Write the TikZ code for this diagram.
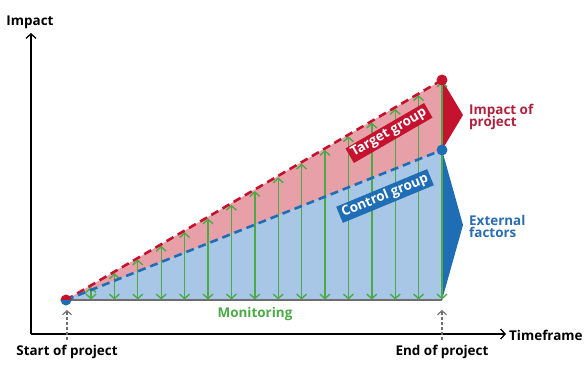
\documentclass[tikz,border=0pt]{standalone}
\usepackage{fontspec}
\setmainfont{Open Sans}
\usetikzlibrary{arrows.meta}
\definecolor{dred}{HTML}{C4122F}
\definecolor{tred}{HTML}{B0213A}
\definecolor{dblue}{HTML}{1F6DB5}
\definecolor{tblue}{HTML}{2A6DB0}
\definecolor{pinkfill}{HTML}{E8A0A8}
\definecolor{bluefill}{HTML}{A8C7E6}
\definecolor{mgreen}{HTML}{4CAA46}
\definecolor{bgrey}{HTML}{6E6E6E}
\tikzset{
  axis/.style={line width=1.3pt, black, -{Straight Barb[length=4.5pt,width=10pt,line width=1.3pt]}},
  monarrow/.style={line width=1.4pt, mgreen, {Straight Barb[length=4.5pt,width=10pt]}-{Straight Barb[length=4.5pt,width=10pt]}},
  markarrow/.style={line width=1.1pt, bgrey, dash pattern=on 3pt off 2pt, -{Straight Barb[length=4pt,width=9pt]}},
  lbl/.style={font=\bfseries\fontsize{13.5}{15}\selectfont, inner sep=0pt, align=left},
  grouplbl/.style={font=\bfseries\fontsize{13.5}{14}\selectfont, text=white, inner xsep=3pt, inner ysep=2pt},
  dot/.style={circle, inner sep=0pt, minimum size=11pt}
}
\begin{document}
\begin{tikzpicture}[x=1bp,y=-1bp]
\useasboundingbox (0,0) rectangle (588,368);
% coordinates
\coordinate (S) at (66,300);
\coordinate (T) at (442,80);
\coordinate (C) at (442,150);
\coordinate (E) at (442,300);
% fills
\fill[pinkfill] (S) -- (T) -- (E) -- cycle;
\fill[bluefill] (S) -- (C) -- (E) -- cycle;
% side arrows
\fill[dred] (T) -- (463,115) -- (C) -- cycle;
\fill[dblue] (C) -- (463,225) -- (E) -- cycle;
% green monitoring arrows
\foreach \i in {0,...,15}{
  \pgfmathsetmacro{\xx}{91+\i*23.4}
  \pgfmathsetmacro{\yy}{300-(\xx-66)*0.5851}
  \draw[monarrow] (\xx,299.5) -- (\xx,\yy+1.5);
}
% baseline
\draw[line width=1.8pt, bgrey] (S) -- (E);
% dashed lines
\draw[line width=2.6pt, dred, dash pattern=on 8pt off 5pt] (S) -- (T);
\draw[line width=2.6pt, dblue, dash pattern=on 8pt off 5pt] (S) -- (C);
% dots
\node[dot, fill=dred] (dT) at (T) {};
\node[dot, fill=dblue] (dC) at (C) {};
\begin{scope}
  \clip (S) ++(-6,-6) rectangle ++(12,6);
  \fill[dred] (S) circle (5.5);
\end{scope}
\begin{scope}
  \clip (S) ++(-6,0) rectangle ++(12,6);
  \fill[dblue] (S) circle (5.5);
\end{scope}
% axes
\coordinate (O) at (31,334);
\coordinate (Ytip) at (31,33);
\coordinate (Xtip) at (506,334);
\draw[axis] (O) -- (Ytip);
\draw[axis] (O) -- (Xtip);
\node[lbl, anchor=south] (impact) at (30,29) {Impact};
\node[lbl, anchor=west] (tf) at (509,335) {Timeframe};
% start/end markers
\coordinate (m1) at (67,340);
\coordinate (m2) at (442,340);
\draw[markarrow] (m1) -- (67,310);
\draw[markarrow] (m2) -- (442,310);
\node[lbl, anchor=center] (start) at (67,352) {Start of project};
\node[lbl, anchor=center] (end) at (442,352) {End of project};
% monitoring
\node[lbl, text=mgreen, anchor=center] (mon) at (255,314) {Monitoring};
% right labels
\node[lbl, text=tred, anchor=west] (imp) at (469,117) {Impact of\\[-3pt]project};
\node[lbl, text=tblue, anchor=west] (ext) at (469,226) {External\\[-3pt]factors};
% group labels
\node[grouplbl, fill=dred, rotate=30] (tg) at (389,133) {Target group};
\node[grouplbl, fill=dblue, rotate=22.5] (cg) at (385,196) {Control group};
\end{tikzpicture}
\end{document}
